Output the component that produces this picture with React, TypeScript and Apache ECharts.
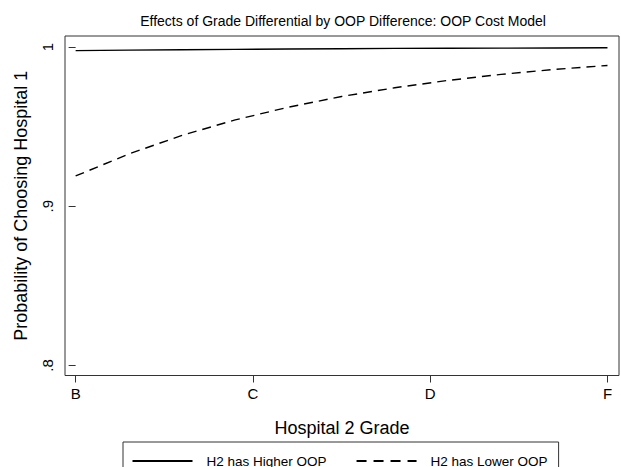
import React, { useEffect, useRef } from 'react';
import * as echarts from 'echarts';

const gradeLabels = ['B', 'C', 'D', 'F'];
const gradePositions = [0, 1, 2, 3];
const xPoints = [0, 0.3, 0.6, 0.9, 1.2, 1.5, 1.8, 2.1, 2.4, 2.7, 3.0];
const higherOOP = [0.9977, 0.998, 0.9983, 0.9985, 0.9987, 0.9989, 0.9991, 0.9992, 0.9993, 0.9994, 0.9995];
const lowerOOP = [0.919, 0.9328, 0.9445, 0.9542, 0.9622, 0.9689, 0.9744, 0.979, 0.9828, 0.9859, 0.9884];
const yTicks = [0.8, 0.9, 1];
const seriesNames = ['H2 has Higher OOP', 'H2 has Lower OOP'];
const titleText = 'Effects of Grade Differential by OOP Difference: OOP Cost Model';

const FONT = '"Liberation Sans", Arial, Helvetica, sans-serif';

export default function App() {
  const ref = useRef<HTMLDivElement>(null);
  useEffect(() => {
    if (!ref.current) return;
    const chart = echarts.init(ref.current, null, { renderer: 'svg' });
    chart.setOption({
      animation: false,
      backgroundColor: '#fff',
      textStyle: { fontFamily: FONT },
      title: {
        text: titleText,
        left: 343,
        textAlign: 'center',
        top: 14,
        padding: 0,
        textStyle: { fontSize: 14, fontWeight: 'normal', color: '#000', fontFamily: FONT },
      },
      grid: {
        left: 65,
        top: 36,
        right: 2,
        bottom: 91.5,
        show: true,
        borderColor: '#333',
        borderWidth: 1,
        containLabel: false,
      },
      legend: {
        left: 123,
        top: 442,
        orient: 'horizontal',
        itemWidth: 60,
        itemHeight: 14,
        itemGap: 29,
        padding: [12, 11, 20, 8.5],
        borderColor: '#333',
        borderWidth: 1,
        itemStyle: { opacity: 0 },
        textStyle: { fontSize: 13.5, color: '#000', padding: [0, 0, 0, 9], fontFamily: FONT },
        data: [
          { name: seriesNames[0] },
          { name: seriesNames[1], lineStyle: { type: [10, 7] } },
        ],
      },
      xAxis: {
        type: 'value',
        min: -0.06,
        max: 3.065,
        splitLine: { show: false },
        axisLine: { show: false },
        axisTick: {
          show: true,
          customValues: gradePositions,
          length: 7,
          lineStyle: { color: '#333', width: 1 },
        },
        axisLabel: {
          customValues: gradePositions,
          formatter: (v: number) => gradeLabels[gradePositions.indexOf(Math.round(v))] ?? '',
          margin: 10,
          fontSize: 15,
          color: '#000',
          fontFamily: FONT,
        },
        name: 'Hospital 2 Grade',
        nameLocation: 'middle',
        nameGap: 43,
        nameTextStyle: { fontSize: 18, color: '#000', fontFamily: FONT },
      },
      yAxis: {
        type: 'value',
        min: 0.7937,
        max: 1.0069,
        splitLine: { show: false },
        axisLine: { show: false },
        axisTick: {
          show: true,
          customValues: yTicks,
          length: 7,
          lineStyle: { color: '#333', width: 1 },
        },
        axisLabel: {
          customValues: yTicks,
          rotate: 90,
          formatter: (v: number) => (Math.abs(v - 1) < 1e-9 ? '1' : '.' + Math.round(v * 10)),
          margin: 10,
          fontSize: 15,
          color: '#000',
          fontFamily: FONT,
        },
        name: 'Probability of Choosing Hospital 1',
        nameLocation: 'middle',
        nameGap: 35.5,
        nameTextStyle: { fontSize: 18, color: '#000', fontFamily: FONT },
      },
      series: [
        {
          name: seriesNames[0],
          type: 'line',
          symbol: 'none',
          showSymbol: false,
          data: xPoints.map((x, i) => [x, higherOOP[i]]),
          lineStyle: { color: '#000', width: 1.4, type: 'solid' },
          itemStyle: { color: '#000' },
        },
        {
          name: seriesNames[1],
          type: 'line',
          symbol: 'none',
          showSymbol: false,
          data: xPoints.map((x, i) => [x, lowerOOP[i]]),
          lineStyle: { color: '#000', width: 1.4, type: [9, 6] },
          itemStyle: { color: '#000' },
        },
      ],
    });
    return () => chart.dispose();
  }, []);
  return (
    <div
      ref={ref}
      style={{ position: 'fixed', left: 0, top: 0, width: 621, height: 467, background: '#fff' }}
    />
  );
}
